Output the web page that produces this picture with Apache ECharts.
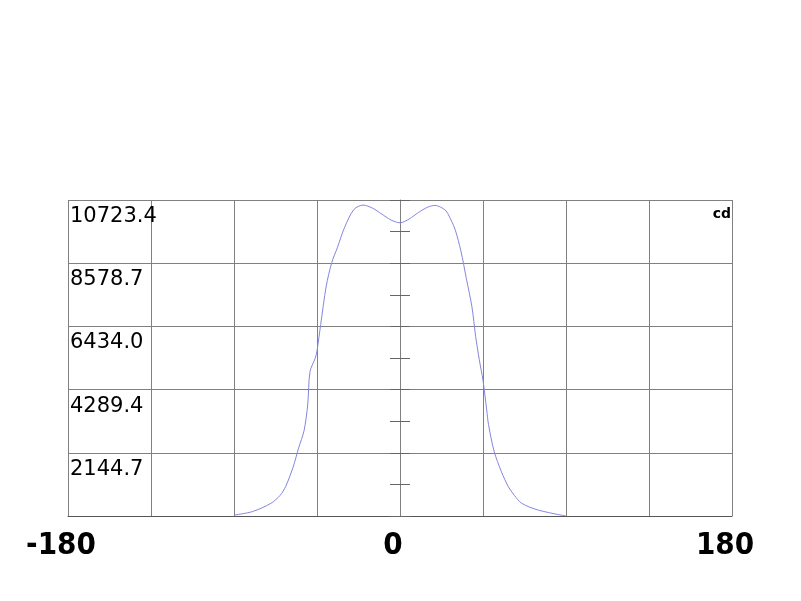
<!DOCTYPE html>
<html>
<head>
<meta charset="utf-8">
<script src="https://cdn.jsdelivr.net/npm/echarts@6/dist/echarts.min.js"></script>
<style>html,body{margin:0;padding:0;background:#fff}#c{width:801px;height:601px}</style>
</head>
<body>
<div id="c"></div>
<script>
// Angles (degrees) and luminous intensity (cd)
const angles = [-90, -80, -70, -65, -62, -58, -55, -52, -50, -48.8, -46, -45, -43, -40, -37, -34, -30, -25, -20, -15, -10, -5, 0,
  5, 10, 15, 19, 22, 25, 28, 30, 33, 36, 39, 41, 43, 45, 47, 48, 51, 55, 58.7, 62, 66, 75, 90];
const intensity = [30, 150, 430, 700, 1000, 1650, 2300, 2900, 3800, 4900, 5350, 5600, 6500, 7800, 8600, 9100, 9800, 10400, 10550, 10450, 10250, 10050, 9950,
  10080, 10300, 10480, 10540, 10480, 10350, 10000, 9700, 9000, 8050, 7100, 6100, 5300, 4600, 3600, 3100, 2200, 1500, 1000, 700, 430, 200, 0];
const xTickLabels = [-180, 0, 180];
const yMax = 10723.4;
const yStep = 2144.68;
const unitLabel = 'cd';

const chart = echarts.init(document.getElementById('c'), null, {renderer: 'canvas'});
const grid = '#808080';
chart.setOption({
  animation: false,
  backgroundColor: '#fff',
  grid: {left: 68, top: 200, width: 664, height: 316, containLabel: false},
  xAxis: {
    type: 'value', min: -180, max: 180, interval: 45,
    axisLine: {show: true, onZero: false, lineStyle: {color: '#555', width: 1}},
    axisTick: {show: false},
    splitLine: {show: true, lineStyle: {color: grid, width: 1}},
    axisLabel: {
      margin: 14,
      fontFamily: 'DejaVu Sans Condensed', fontWeight: 'bold', fontSize: 31, color: '#000',
      padding: [0, 14, 0, 0],
      showMinLabel: true, showMaxLabel: true,
      formatter: v => xTickLabels.includes(v) ? String(v) : ''
    }
  },
  yAxis: [{
    type: 'value', min: 0, max: yMax, interval: yStep,
    axisLine: {show: true, lineStyle: {color: grid}},
    axisTick: {show: false},
    splitLine: {show: true, lineStyle: {color: grid, width: 1}},
    axisLabel: {
      inside: true, margin: 2, verticalAlign: 'top', padding: [6, 0, 0, 0],
      fontFamily: 'DejaVu Sans', fontSize: 21, color: '#000',
      showMaxLabel: true,
      formatter: v => v < 1 ? '' : v.toFixed(1)
    }
  }, {
    type: 'value', min: 0, max: yMax, interval: yStep / 2, position: 'left', offset: -332,
    axisLine: {show: false}, splitLine: {show: false}, axisLabel: {show: false},
    axisTick: {show: true, inside: true, length: 10, lineStyle: {color: '#666'}}
  }, {
    type: 'value', min: 0, max: yMax, interval: yStep / 2, position: 'left', offset: -332,
    axisLine: {show: false}, splitLine: {show: false}, axisLabel: {show: false},
    axisTick: {show: true, inside: false, length: 10, lineStyle: {color: '#666'}}
  }, {
    type: 'value', min: 0, max: yMax, position: 'right', show: false
  }],
  graphic: [{
    type: 'text', right: 70, top: 207,
    style: {text: unitLabel, fontFamily: 'DejaVu Sans', fontWeight: 'bold', fontSize: 14, fill: '#000'}
  }],
  series: [{
    type: 'line', yAxisIndex: 0, smooth: 0.3, symbol: 'none',
    lineStyle: {color: '#8585dd', width: 1},
    data: angles.map((a, i) => [a, intensity[i]])
  }]
});
</script>
</body>
</html>
